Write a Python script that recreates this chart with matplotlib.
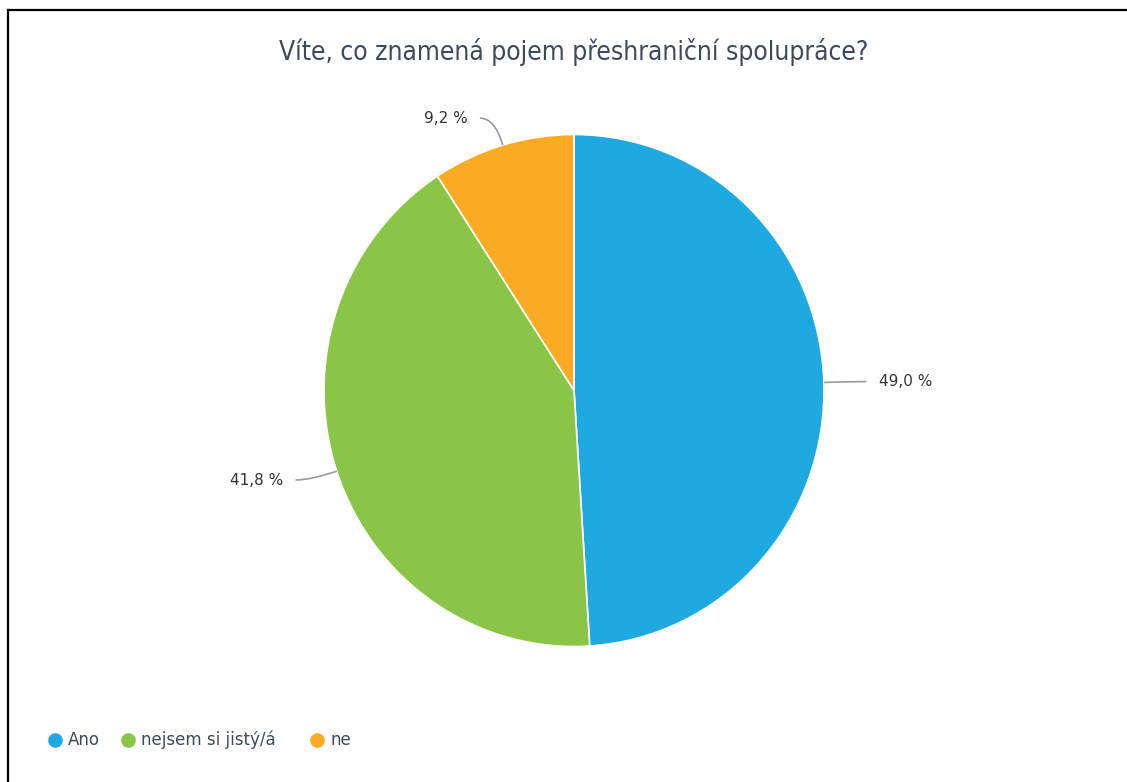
import numpy as np
import matplotlib.pyplot as plt
from matplotlib.lines import Line2D
from matplotlib.path import Path
from matplotlib.patches import PathPatch

# data
categories = ['Ano', 'nejsem si jistý/á', 'ne']
values = [49.0, 41.8, 9.2]
labels = ['49,0 %', '41,8 %', '9,2 %']
colors = ['#1fa9e1', '#8bc548', '#fbaa23']
title = 'Víte, co znamená pojem přeshraniční spolupráce?'

W, H = 1127, 782
fig = plt.figure(figsize=(W / 100, H / 100), dpi=100)

# pie area: centre (574, 390.5) px, radius 250 px wide, 256 px high
rx, ry = 250.0, 256.0
cx, cy = 574.0, 390.5
aw, ah = 1000.0, 600.0
ax = fig.add_axes([(cx - aw / 2) / W, (H - cy - ah / 2) / H, aw / W, ah / H])

wedges, _ = ax.pie(values, colors=colors, startangle=90, counterclock=False,
                   wedgeprops=dict(edgecolor='white', linewidth=1.2))
# the picture is slightly stretched vertically
for w in wedges:
    path = w.get_path()
    verts = path.vertices.copy()
    verts[:, 1] *= ry / rx
    w._path = Path(verts, path.codes)

ax.set_aspect('auto')
ax.set_xlim(-aw / 2 / rx, aw / 2 / rx)
ax.set_ylim(-ah / 2 / rx, ah / 2 / rx)
ax.axis('off')

# labels with curved leader lines
tot = sum(values)
cum = 0
for v, lab in zip(values, labels):
    mid = 90 - 360 * (cum + v / 2) / tot
    cum += v
    a = np.radians(mid)
    c, s = np.cos(a), np.sin(a) * ry / rx
    p0 = (c, s)
    p1 = (1.11 * c, 1.11 * s)
    side = 1 if c >= 0 else -1
    p2 = (p1[0] + side * 0.06, p1[1])
    pp = PathPatch(Path([p0, p1, p2], [Path.MOVETO, Path.CURVE3, Path.CURVE3]),
                   fill=False, edgecolor='#9a9a9a', linewidth=1.2)
    ax.add_patch(pp)
    ax.text(p2[0] + side * 0.05, p2[1], lab, ha='left' if side > 0 else 'right',
            va='center', fontsize=11, color='#333333')

fig.text(cx / W, 1 - 52 / H, title, ha='center', va='center', fontsize=18.9,
         color='#3e4a5c', fontstretch='condensed')

# legend
leg_x = [55, 128, 317]
leg_y = 1 - 740 / H
for x, cat, col in zip(leg_x, categories, colors):
    fig.add_artist(Line2D([x / W], [leg_y], marker='o', markersize=9.5,
                          color=col, linestyle='none'))
    fig.text((x + 13) / W, leg_y, cat, ha='left', va='center', fontsize=12,
             color='#3e4a5c')

# frame lines (top and left only)
fig.add_artist(Line2D([8 / W, 1], [1 - 10 / H, 1 - 10 / H], color='black', linewidth=1.6))
fig.add_artist(Line2D([8 / W, 8 / W], [0, 1 - 10 / H], color='black', linewidth=1.6))

fig.savefig('out.png', dpi=100)
